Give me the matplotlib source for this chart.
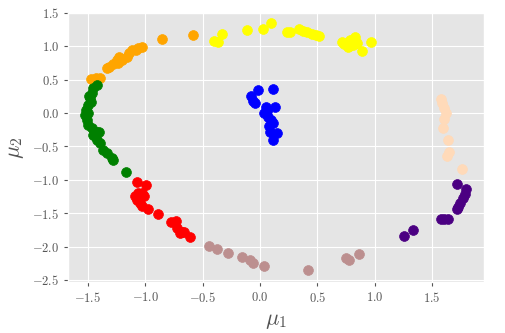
import matplotlib
matplotlib.use("Agg")
import matplotlib.pyplot as plt
from matplotlib.ticker import FuncFormatter

plt.style.use("ggplot")
plt.rcParams["mathtext.fontset"] = "cm"

# cluster data (mu1, mu2)
orange_x = [-0.582, -0.852, -1.032, -1.082, -1.119, -1.163, -1.227, -1.236, -1.279, -1.314, -1.337, -1.395, -1.433, -1.476, -1.06, -1.14, -1.25, -1.20]
orange_y = [1.166, 1.106, 0.995, 0.946, 0.946, 0.845, 0.845, 0.746, 0.731, 0.687, 0.672, 0.531, 0.522, 0.511, 0.97, 0.90, 0.79, 0.80]

green_x = [-1.424, -1.454, -1.468, -1.483, -1.474, -1.503, -1.520, -1.526, -1.511, -1.497, -1.468, -1.424, -1.404, -1.454, -1.424, -1.395, -1.367, -1.337, -1.293, -1.279, -1.169, -1.49, -1.50, -1.44]
green_y = [0.421, 0.372, 0.297, 0.222, 0.171, 0.122, 0.047, -0.028, -0.103, -0.178, -0.227, -0.278, -0.278, -0.328, -0.403, -0.452, -0.552, -0.602, -0.677, -0.702, -0.877, 0.25, 0.0, -0.35]

red_x = [-1.070, -0.994, -1.090, -1.061, -1.032, -1.012, -1.075, -1.047, -1.032, -0.974, -0.887, -0.779, -0.733, -0.721, -0.683, -0.698, -0.663, -0.611]
red_y = [-1.036, -1.077, -1.237, -1.201, -1.201, -1.237, -1.301, -1.351, -1.387, -1.436, -1.511, -1.627, -1.616, -1.717, -1.776, -1.800, -1.776, -1.851]

brown_x = [-0.442, -0.373, -0.277, -0.155, -0.088, -0.059, 0.037, 0.422, 0.749, 0.776, 0.865]
brown_y = [-1.991, -2.036, -2.091, -2.160, -2.200, -2.241, -2.290, -2.350, -2.175, -2.200, -2.110]

yellow_x = [-0.400, -0.364, -0.329, -0.111, 0.028, 0.093, 0.238, 0.261, 0.342, 0.377, 0.412, 0.450, 0.488, 0.517, 0.712, 0.755, 0.784, 0.828, 0.769, 0.813, 0.843, 0.891, 0.967, 0.73, 0.80, 0.78]
yellow_y = [1.085, 1.061, 1.185, 1.241, 1.260, 1.355, 1.215, 1.215, 1.256, 1.230, 1.215, 1.185, 1.175, 1.155, 1.070, 1.055, 1.095, 1.136, 0.995, 1.020, 1.046, 0.926, 1.061, 1.04, 1.06, 1.00]

blue_x = [-0.015, 0.116, -0.081, -0.059, -0.044, 0.052, 0.130, 0.034, 0.072, 0.093, 0.110, 0.087, 0.145, 0.116, 0.08, 0.06]
blue_y = [0.346, 0.361, 0.257, 0.186, 0.152, 0.087, 0.087, -0.003, -0.054, -0.103, -0.152, -0.278, -0.302, -0.403, -0.20, 0.03]

peach_x = [1.578, 1.589, 1.606, 1.619, 1.606, 1.598, 1.641, 1.647, 1.627, 1.761]
peach_y = [0.207, 0.147, 0.072, 0.006, -0.093, -0.227, -0.403, -0.578, -0.642, -0.837]

purple_x = [1.717, 1.798, 1.791, 1.772, 1.748, 1.726, 1.717, 1.575, 1.608, 1.641, 1.259, 1.336]
purple_y = [-1.057, -1.132, -1.212, -1.276, -1.351, -1.406, -1.436, -1.586, -1.586, -1.586, -1.848, -1.751]

clusters = [
    (orange_x, orange_y, "orange"),
    (green_x, green_y, "green"),
    (red_x, red_y, "red"),
    (brown_x, brown_y, "rosybrown"),
    (yellow_x, yellow_y, "yellow"),
    (blue_x, blue_y, "blue"),
    (peach_x, peach_y, "peachpuff"),
    (purple_x, purple_y, "indigo"),
]

xticks = [-1.5, -1.0, -0.5, 0.0, 0.5, 1.0, 1.5]
yticks = [-2.5, -2.0, -1.5, -1.0, -0.5, 0.0, 0.5, 1.0, 1.5]

fig = plt.figure(figsize=(5.05, 3.33), dpi=100)
ax = fig.add_axes([68/505, 1-282/333, (484-68)/505, (282-13)/333])

for xs, ys, c in clusters:
    ax.scatter(xs, ys, s=50, color=c, edgecolors=c, linewidths=0.5, zorder=3)

ax.set_xlim(-1.674, 1.953)
ax.set_ylim(-2.53, 1.5)
ax.set_xticks(xticks)
ax.set_yticks(yticks)
fmt = FuncFormatter(lambda v, p: f"${v:.1f}$")
ax.xaxis.set_major_formatter(fmt)
ax.yaxis.set_major_formatter(fmt)
ax.tick_params(labelsize=9, colors="#555555", length=3)
ax.set_xlabel(r"$\mu_1$", fontsize=16, color="#555555")
ax.set_ylabel(r"$\mu_2$", fontsize=16, color="#555555")

fig.savefig("out.png", dpi=100)
